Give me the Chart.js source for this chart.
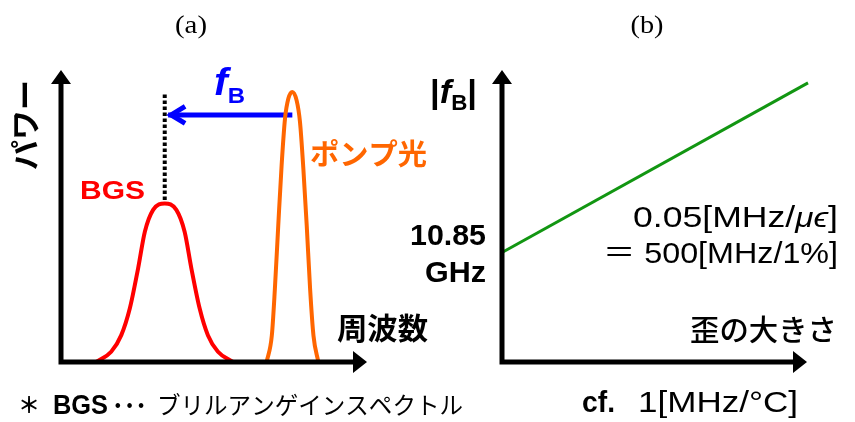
<!DOCTYPE html>
<html>
<head>
<meta charset="utf-8">
<script src="https://cdn.jsdelivr.net/npm/chart.js@4"></script>
<style>
  html, body { margin: 0; padding: 0; background: #fff; }
  #wrap { position: relative; width: 855px; height: 422px; }
  #wrap canvas { position: absolute; left: 0; top: 0; }
</style>
</head>
<body>
<div id="wrap">
  <canvas id="spectrum" width="855" height="422"></canvas>
  <canvas id="strain" width="855" height="422"></canvas>
</div>
<script>
// ---- (a) Brillouin gain spectrum (BGS) and pump light, arbitrary units ----
const bgsFreq   = [11.5, 16.4, 19.7, 22.5, 25.2, 27.4, 30.1, 33.9, 37.7, 40.4, 42.6, 45.3, 48.0, 51.3, 56.2];
const bgsPower  = [0.0, 3.5, 9.2, 18.4, 32.1, 44.6, 52.1, 54.3, 52.1, 44.6, 32.1, 18.4, 9.2, 3.5, 0.0];
const pumpFreq  = [67.2, 68.9, 69.9, 71.0, 72.1, 73.2, 74.3, 75.6, 77.0, 78.1, 79.2, 80.3, 81.4, 82.5, 84.1];
const pumpPower = [0.0, 9.1, 25.1, 46.8, 67.4, 83.3, 90.2, 92.5, 89.6, 82.2, 66.2, 46.8, 25.1, 9.1, 0.0];
// dotted marker above the BGS peak, and the f_B shift arrow (pump -> BGS)
const markerFreq  = [33.9, 33.9];
const markerPower = [55.5, 92.1];
const shiftFreq   = [75.6, 35.0];
const shiftPower  = [84.6, 84.6];

// ---- (b) Brillouin frequency vs. strain ----
const strainPct = [0.0, 1.0];      // strain [%]
const fbGHz     = [10.85, 11.35];  // |f_B| [GHz], 500 MHz per 1 %
const fbOffsetLabel = ['10.85', 'GHz'];

// ---- text ----
const LAT = '"Liberation Sans", Arial, "Noto Sans CJK JP", sans-serif';
const JP  = '"Noto Sans CJK JP", "Noto Sans CJK SC", sans-serif';
const SERIF = '"Liberation Serif", "Times New Roman", serif';
const RED = '#ff0000', ORANGE = '#ff6600', BLUE = '#0000ff', GREEN = '#129612';

const pts = (xs, ys) => xs.map((x, i) => ({ x, y: ys[i] }));

// draw a sequence of styled text runs, optionally stretched to a given width
function drawRuns(ctx, runs, x, y, o = {}) {
  let total = 0;
  for (const r of runs) { ctx.font = r.font; r.w = ctx.measureText(r.t).width; total += r.w; }
  const sx = o.width ? o.width / total : 1;
  const align = o.align || 'left';
  ctx.save();
  ctx.translate(x, y);
  if (o.rotate) ctx.rotate(o.rotate);
  ctx.scale(sx, 1);
  let cx = align === 'right' ? -total : align === 'center' ? -total / 2 : 0;
  ctx.textAlign = 'left';
  ctx.textBaseline = o.baseline || 'alphabetic';
  for (const r of runs) {
    ctx.font = r.font;
    ctx.fillStyle = r.color || '#000';
    ctx.fillText(r.t, cx, r.dy || 0);
    cx += r.w;
  }
  ctx.restore();
}

// two arrowed axes meeting at the bottom-left corner of the plot area
function drawAxes(ctx, a) {
  ctx.save();
  ctx.strokeStyle = '#000';
  ctx.fillStyle = '#000';
  ctx.lineWidth = 5;
  ctx.beginPath();
  ctx.moveTo(a.left, a.top + 12);
  ctx.lineTo(a.left, a.bottom + 2.5);
  ctx.moveTo(a.left - 2.5, a.bottom);
  ctx.lineTo(a.right - 12, a.bottom);
  ctx.stroke();
  ctx.beginPath();
  ctx.moveTo(a.left, a.top);
  ctx.lineTo(a.left - 10, a.top + 14);
  ctx.lineTo(a.left + 10, a.top + 14);
  ctx.closePath();
  ctx.moveTo(a.right, a.bottom);
  ctx.lineTo(a.right - 14, a.bottom - 11);
  ctx.lineTo(a.right - 14, a.bottom + 11);
  ctx.closePath();
  ctx.fill();
  ctx.restore();
}

const hiddenScale = (min, max) => ({ type: 'linear', min, max, display: false });

// ---------------- (a) ----------------
const spectrumDecor = {
  id: 'spectrumDecor',
  afterDatasetsDraw(chart) {
    const ctx = chart.ctx, a = chart.chartArea;
    const xs = chart.scales.x, ys = chart.scales.y;
    drawAxes(ctx, a);

    // arrow head at the end of the f_B shift line
    const tx = xs.getPixelForValue(shiftFreq[1]);
    const ty = ys.getPixelForValue(shiftPower[1]);
    ctx.save();
    ctx.strokeStyle = BLUE;
    ctx.lineWidth = 5;
    ctx.lineJoin = 'miter';
    ctx.beginPath();
    ctx.moveTo(tx + 17, ty - 8.5);
    ctx.lineTo(tx + 3, ty);
    ctx.lineTo(tx + 17, ty + 8.5);
    ctx.stroke();
    ctx.restore();

    drawRuns(ctx, [{ t: '(a)', font: `26px ${SERIF}` }], 191, 33, { align: 'center', width: 32 });
    drawRuns(ctx, [{ t: 'パワー', font: `bold 30px ${JP}` }], 25, 125,
      { align: 'center', baseline: 'middle', rotate: -Math.PI / 2, width: 90 });
    drawRuns(ctx, [
      { t: 'f', font: `italic bold 38px ${LAT}`, color: BLUE },
      { t: 'B', font: `bold 22px ${LAT}`, color: BLUE, dy: 8 }
    ], 214, 95, { width: 31 });
    drawRuns(ctx, [{ t: 'BGS', font: `bold 26px ${LAT}`, color: RED }], 80, 199, { width: 65 });
    drawRuns(ctx, [{ t: 'ポンプ光', font: `bold 29px ${JP}`, color: ORANGE }], 310, 154,
      { baseline: 'middle', width: 117 });
    drawRuns(ctx, [{ t: '周波数', font: `bold 30px ${JP}` }], 337, 328, { baseline: 'middle', width: 91 });

    // footnote
    drawRuns(ctx, [{ t: '＊', font: `bold 22px ${JP}` }], 29, 405, { align: 'center', baseline: 'middle' });
    drawRuns(ctx, [{ t: 'BGS', font: `bold 27px ${LAT}` }], 53, 414, { width: 55 });
    drawRuns(ctx, [{ t: '･･･', font: `bold 26px ${JP}` }], 112, 405, { baseline: 'middle', width: 35 });
    drawRuns(ctx, [{ t: 'ブリルアンゲインスペクトル', font: `24px ${JP}` }], 157, 405,
      { baseline: 'middle', width: 306 });
  }
};

new Chart(document.getElementById('spectrum'), {
  type: 'scatter',
  data: {
    datasets: [
      { data: pts(bgsFreq, bgsPower), borderColor: RED, borderWidth: 4,
        cubicInterpolationMode: 'monotone' },
      { data: pts(pumpFreq, pumpPower), borderColor: ORANGE, borderWidth: 4,
        cubicInterpolationMode: 'monotone' },
      { data: pts(markerFreq, markerPower), borderColor: '#000', borderWidth: 4,
        borderDash: [3.5, 2.5], borderCapStyle: 'butt' },
      { data: pts(shiftFreq, shiftPower), borderColor: BLUE, borderWidth: 5, borderCapStyle: 'butt' }
    ].map(d => Object.assign({ showLine: true, pointRadius: 0, pointHoverRadius: 0, clip: false }, d))
  },
  options: {
    responsive: false,
    animation: false,
    events: [],
    layout: { padding: { left: 61, right: 488, top: 70, bottom: 60 } },
    scales: { x: hiddenScale(0, 100), y: hiddenScale(0, 100) },
    plugins: { legend: { display: false }, tooltip: { enabled: false } }
  },
  plugins: [spectrumDecor]
});

// ---------------- (b) ----------------
const strainDecor = {
  id: 'strainDecor',
  afterDatasetsDraw(chart) {
    const ctx = chart.ctx, a = chart.chartArea;
    const ys = chart.scales.y;
    drawAxes(ctx, { left: a.left, top: a.top, right: a.right - 1, bottom: a.bottom });

    drawRuns(ctx, [{ t: '(b)', font: `26px ${SERIF}` }], 647, 33, { align: 'center', width: 33 });
    drawRuns(ctx, [
      { t: '|', font: `bold 34px ${LAT}` },
      { t: 'f', font: `italic bold 34px ${LAT}` },
      { t: 'B', font: `bold 22px ${LAT}`, dy: 7 },
      { t: '|', font: `bold 34px ${LAT}` }
    ], 430, 103, { width: 47 });

    // intercept label at the value where the line starts
    const y0 = ys.getPixelForValue(fbGHz[0]);
    const rx = a.left - 16;
    drawRuns(ctx, [{ t: fbOffsetLabel[0], font: `bold 30px ${LAT}` }], rx, y0 - 7.5, { align: 'right', width: 76 });
    drawRuns(ctx, [{ t: fbOffsetLabel[1], font: `bold 30px ${LAT}` }], rx, y0 + 29.5, { align: 'right', width: 61 });

    drawRuns(ctx, [
      { t: '0.05[MHz/', font: `30px ${LAT}` },
      { t: 'μϵ', font: `italic 28px ${LAT}` },
      { t: ']', font: `30px ${LAT}` }
    ], 838, 227, { align: 'right', width: 205 });
    drawRuns(ctx, [
      { t: '＝', font: `30px ${JP}` },
      { t: ' 500[MHz/1%]', font: `30px ${LAT}` }
    ], 838, 263, { align: 'right', width: 235 });

    drawRuns(ctx, [{ t: '歪の大きさ', font: `500 29px ${JP}` }], 837, 330,
      { align: 'right', baseline: 'middle', width: 147 });
    drawRuns(ctx, [{ t: 'cf.', font: `bold 30px ${LAT}` }], 582, 412, { width: 33 });
    drawRuns(ctx, [{ t: '1[MHz/°C]', font: `30px ${LAT}` }], 638, 412, { width: 160 });
  }
};

new Chart(document.getElementById('strain'), {
  type: 'scatter',
  data: {
    datasets: [
      { data: pts(strainPct, fbGHz), showLine: true, borderColor: GREEN, borderWidth: 3,
        pointRadius: 0, pointHoverRadius: 0, clip: false }
    ]
  },
  options: {
    responsive: false,
    animation: false,
    events: [],
    layout: { padding: { left: 502, right: 47, top: 70, bottom: 60 } },
    scales: { x: hiddenScale(0, 1.0), y: hiddenScale(10.527, 11.388) },
    plugins: { legend: { display: false }, tooltip: { enabled: false } }
  },
  plugins: [strainDecor]
});
</script>
</body>
</html>
